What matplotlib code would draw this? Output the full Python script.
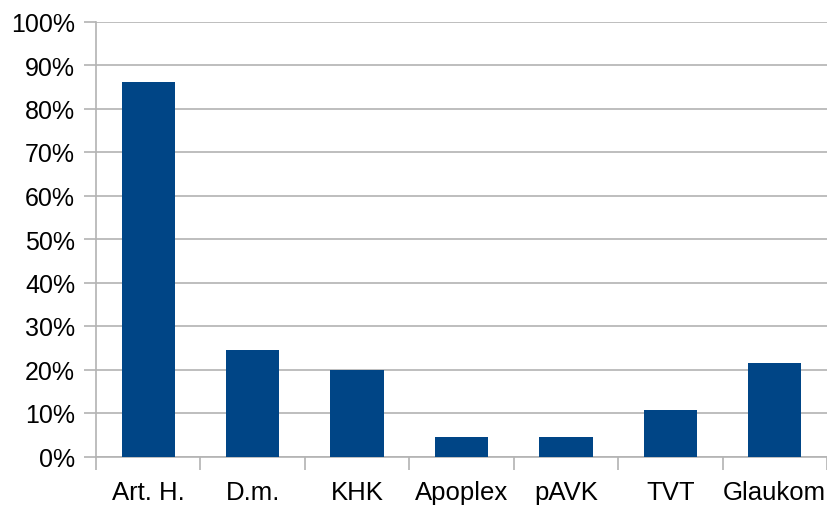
import matplotlib.pyplot as plt
from matplotlib.ticker import FixedLocator, PercentFormatter

# Anteil der Patienten mit Begleiterkrankung
kategorien = ["Art. H.", "D.m.", "KHK", "Apoplex", "pAVK", "TVT", "Glaukom"]
anteile = [86.2, 24.4, 19.8, 4.5, 4.5, 10.7, 21.4]

plt.rcParams["font.family"] = ["Liberation Sans", "DejaVu Sans"]

fig = plt.figure(figsize=(8.28, 5.06), dpi=100)
ax = fig.add_axes([96 / 828, 1 - 457.5 / 506, 731 / 828, 435 / 506])

x = range(len(kategorien))
ax.bar(x, anteile, width=0.51, color="#004586", zorder=3)

ax.set_xlim(-0.5, len(kategorien) - 0.5)
ax.set_ylim(0, 100)
ax.set_yticks(range(0, 101, 10))
ax.yaxis.set_major_formatter(PercentFormatter(decimals=0))
ax.grid(axis="y", color="#b3b3b3", linewidth=1.2, zorder=0)

ax.set_xticks(list(x))
ax.set_xticklabels(kategorien)
ax.xaxis.set_minor_locator(FixedLocator([i - 0.5 for i in range(len(kategorien) + 1)]))
ax.tick_params(axis="x", which="major", length=0, pad=17, labelsize=18.5)
ax.tick_params(axis="x", which="minor", length=9, width=1.2, color="#b3b3b3")
ax.tick_params(axis="y", length=9, width=1.2, color="#b3b3b3", pad=6, labelsize=18)

for side in ["top", "right"]:
    ax.spines[side].set_visible(False)
for side in ["left", "bottom"]:
    ax.spines[side].set_color("#b3b3b3")
    ax.spines[side].set_linewidth(1.2)

fig.savefig("out.png", dpi=100)
